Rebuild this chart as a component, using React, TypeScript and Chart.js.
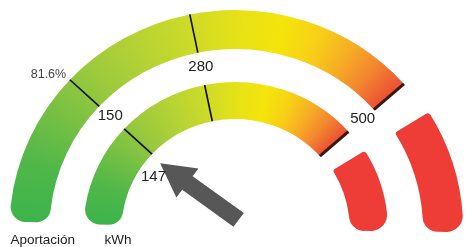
import React, { useEffect, useRef } from 'react';
import { Chart, registerables } from 'chart.js';

Chart.register(...registerables);

// ---- data ----
const scaleTicks = [150, 280, 500];
const scaleTickLabels = ['150', '280', '500'];
const outerTickLabels = ['81.6%'];
const pointerValue = 147;
const pointerLabel = '147';
const ringTitles = ['Aportación', 'kWh'];

// ---- gauge geometry (degrees, 0 = top, clockwise) ----
const GAUGE_START_DEG = -88;
const GAUGE_SPAN_DEG = 136.5;
const RED_START_DEG = 58;
const RED_END_DEG = 91;
const SX = 1.03;
const OUTER_RADIUS = 219;
const INNER_CUTOUT = 110;
const CX = 235;
const CY = 229;
const CANVAS = 600;

const scaleMax = scaleTicks[scaleTicks.length - 1];
const unitsPerDeg = scaleMax / GAUGE_SPAN_DEG;
const bands = scaleTicks.map((v, i) => v - (i ? scaleTicks[i - 1] : 0));
const gapUnits = (RED_START_DEG - GAUGE_START_DEG - GAUGE_SPAN_DEG) * unitsPerDeg;
const redUnits = (RED_END_DEG - RED_START_DEG) * unitsPerDeg;
const fillUnits = 360 * unitsPerDeg - scaleMax - gapUnits - redUnits;
const ringData = [...bands, gapUnits, redUnits, fillUnits];
const RED_INDEX = bands.length + 1;

const gradientStops: [number, string][] = [
  [-88, '#3cb44b'],
  [-72, '#4fb749'],
  [-58, '#72bf44'],
  [-44, '#96c83e'],
  [-28, '#b4d235'],
  [-12, '#cedb27'],
  [2, '#e8e217'],
  [13, '#f4e40a'],
  [23, '#f8cf17'],
  [32, '#f7ac24'],
  [40, '#f3852f'],
  [49, '#eb4c35'],
];
const RED = '#ee3d36';

const DEG = Math.PI / 180;

function center(chart: any) {
  const a = chart.chartArea;
  if (!a) return { cx: (chart.width || CANVAS) / 2, cy: (chart.height || CANVAS) / 2 };
  return { cx: (a.left + a.right) / 2, cy: (a.top + a.bottom) / 2 };
}

function getGradient(chart: any) {
  const { cx, cy } = center(chart);
  const key = cx + ',' + cy;
  if (chart.$gaugeGrad && chart.$gaugeKey === key) return chart.$gaugeGrad;
  const g = chart.ctx.createConicGradient((GAUGE_START_DEG - 90) * DEG, cx, cy);
  gradientStops.forEach(([d, c]) => g.addColorStop((d - GAUGE_START_DEG) / 360, c));
  g.addColorStop(1, gradientStops[gradientStops.length - 1][1]);
  chart.$gaugeGrad = g;
  chart.$gaugeKey = key;
  return g;
}

function stretch(ctx: CanvasRenderingContext2D, cx: number) {
  ctx.translate(cx, 0);
  ctx.scale(SX, 1);
  ctx.translate(-cx, 0);
}

const ringStyle = {
  backgroundColor: (c: any) => {
    const i = c.dataIndex;
    if (i < bands.length) return getGradient(c.chart);
    if (i === RED_INDEX) return RED;
    return 'rgba(0,0,0,0)';
  },
  borderWidth: 0,
  borderRadius: (c: any) => {
    if (c.dataIndex === 0) return { outerStart: 15, innerStart: 14, outerEnd: 0, innerEnd: 0 };
    if (c.dataIndex === RED_INDEX) return { outerStart: 3, innerStart: 3, outerEnd: 16, innerEnd: 15 };
    return 0;
  },
  offset: (c: any) => (c.dataIndex === RED_INDEX ? (c.datasetIndex === 0 ? 7 : 4) : 0),
  hoverOffset: 0,
};

const gaugePlugin = {
  id: 'gaugeDecor',
  beforeDatasetsDraw(chart: any) {
    const { cx } = center(chart);
    chart.ctx.save();
    stretch(chart.ctx, cx);
  },
  afterDatasetsDraw(chart: any) {
    chart.ctx.restore();
  },
  afterDraw(chart: any) {
    const ctx: CanvasRenderingContext2D = chart.ctx;
    const { cx, cy } = center(chart);
    const outerMeta = chart.getDatasetMeta(0);
    const innerMeta = chart.getDatasetMeta(2);
    const outerArc0 = outerMeta.data[0];
    const innerArc0 = innerMeta.data[0];
    const startA = innerArc0.startAngle;
    const endA = innerMeta.data[bands.length - 1].endAngle;
    const radPerUnit = (endA - startA) / scaleMax;

    // ticks
    ctx.save();
    stretch(ctx, cx);
    [outerMeta, innerMeta].forEach((meta: any) => {
      for (let k = 0; k < bands.length; k++) {
        const arc = meta.data[k];
        const a = arc.endAngle;
        const last = k === bands.length - 1;
        ctx.beginPath();
        ctx.moveTo(arc.x + Math.cos(a) * arc.innerRadius, arc.y + Math.sin(a) * arc.innerRadius);
        ctx.lineTo(arc.x + Math.cos(a) * arc.outerRadius, arc.y + Math.sin(a) * arc.outerRadius);
        ctx.lineWidth = last ? 3 : 1.6;
        ctx.strokeStyle = last ? '#3a1a10' : '#111111';
        ctx.stroke();
      }
    });

    // pointer arrow
    const va = startA + pointerValue * radPerUnit;
    const tipR = innerArc0.innerRadius - 12;
    const tx = cx + Math.cos(va) * tipR;
    const ty = cy + Math.sin(va) * tipR;
    const axis = va - 5.5 * DEG; // direction tail -> tip
    const ux = Math.cos(axis), uy = Math.sin(axis);
    const vx = -uy, vy = ux;
    const P = (u: number, v: number) => [tx + ux * u + vx * v, ty + uy * u + vy * v];
    const headL = 33, headW = 18, shaftW = 8.5, len = 95;
    const pts = [P(0, 0), P(-headL, headW), P(-headL, shaftW), P(-len, shaftW), P(-len, -shaftW), P(-headL, -shaftW), P(-headL, -headW)];
    ctx.beginPath();
    pts.forEach(([x, y], i) => (i ? ctx.lineTo(x, y) : ctx.moveTo(x, y)));
    ctx.closePath();
    ctx.fillStyle = '#575757';
    ctx.fill();
    ctx.restore();

    const polar = (a: number, r: number) => [cx + SX * r * Math.cos(a), cy + r * Math.sin(a)];

    // scale labels between rings
    const midR = (outerArc0.innerRadius + innerArc0.outerRadius) / 2 + 2;
    ctx.textAlign = 'center';
    ctx.textBaseline = 'middle';
    ctx.fillStyle = '#222222';
    ctx.font = '15px "Liberation Sans", Arial, sans-serif';
    for (let k = 0; k < bands.length; k++) {
      const a = innerMeta.data[k].endAngle;
      const [x, y] = polar(a, midR);
      ctx.fillText(scaleTickLabels[k], x, y);
    }
    // pointer value label
    {
      const [x, y] = polar(va - 8.5 * DEG, innerArc0.innerRadius - 15);
      ctx.fillText(pointerLabel, x, y);
    }
    // outer ring label
    ctx.font = '12.5px "Liberation Sans", Arial, sans-serif';
    ctx.fillStyle = '#444444';
    outerTickLabels.forEach((t, k) => {
      const a = outerMeta.data[k].endAngle - 2.5 * DEG;
      const [x, y] = polar(a, outerArc0.outerRadius + 19);
      ctx.fillText(t, x, y);
    });

    // ring titles
    ctx.font = '13.5px "Liberation Sans", Arial, sans-serif';
    ctx.fillStyle = '#222222';
    ctx.textAlign = 'left';
    ctx.textBaseline = 'alphabetic';
    const titleY = cy + 15;
    ctx.fillText(ringTitles[0], cx - SX * outerArc0.outerRadius + 1, titleY);
    ctx.fillText(ringTitles[1], cx - SX * innerArc0.outerRadius + 21, titleY);
  },
};

export default function App() {
  const ref = useRef<HTMLCanvasElement>(null);
  useEffect(() => {
    document.body.style.margin = '0';
    const canvas = ref.current!;
    const chart = new Chart(canvas, {
      type: 'doughnut',
      data: {
        labels: ['0–150', '150–280', '280–500', 'gap', 'red', 'rest'],
        datasets: [
          { label: ringTitles[0], data: ringData, weight: 39, ...ringStyle } as any,
          { label: 'gap', data: [1], weight: 33, backgroundColor: 'rgba(0,0,0,0)', borderWidth: 0 } as any,
          { label: ringTitles[1], data: ringData, weight: 37, ...ringStyle } as any,
        ],
      },
      options: {
        responsive: false,
        animation: false,
        rotation: GAUGE_START_DEG,
        circumference: 360,
        radius: OUTER_RADIUS,
        cutout: (INNER_CUTOUT / OUTER_RADIUS) * 100 + '%',
        layout: { padding: 0 },
        events: [],
        plugins: { legend: { display: false }, tooltip: { enabled: false } },
      } as any,
      plugins: [gaugePlugin],
    });
    return () => chart.destroy();
  }, []);
  return (
    <div style={{ position: 'relative', width: 470, height: 247, overflow: 'hidden', background: '#fff' }}>
      <canvas
        ref={ref}
        width={CANVAS}
        height={CANVAS}
        style={{ position: 'absolute', left: CX - CANVAS / 2, top: CY - CANVAS / 2 }}
      />
    </div>
  );
}
